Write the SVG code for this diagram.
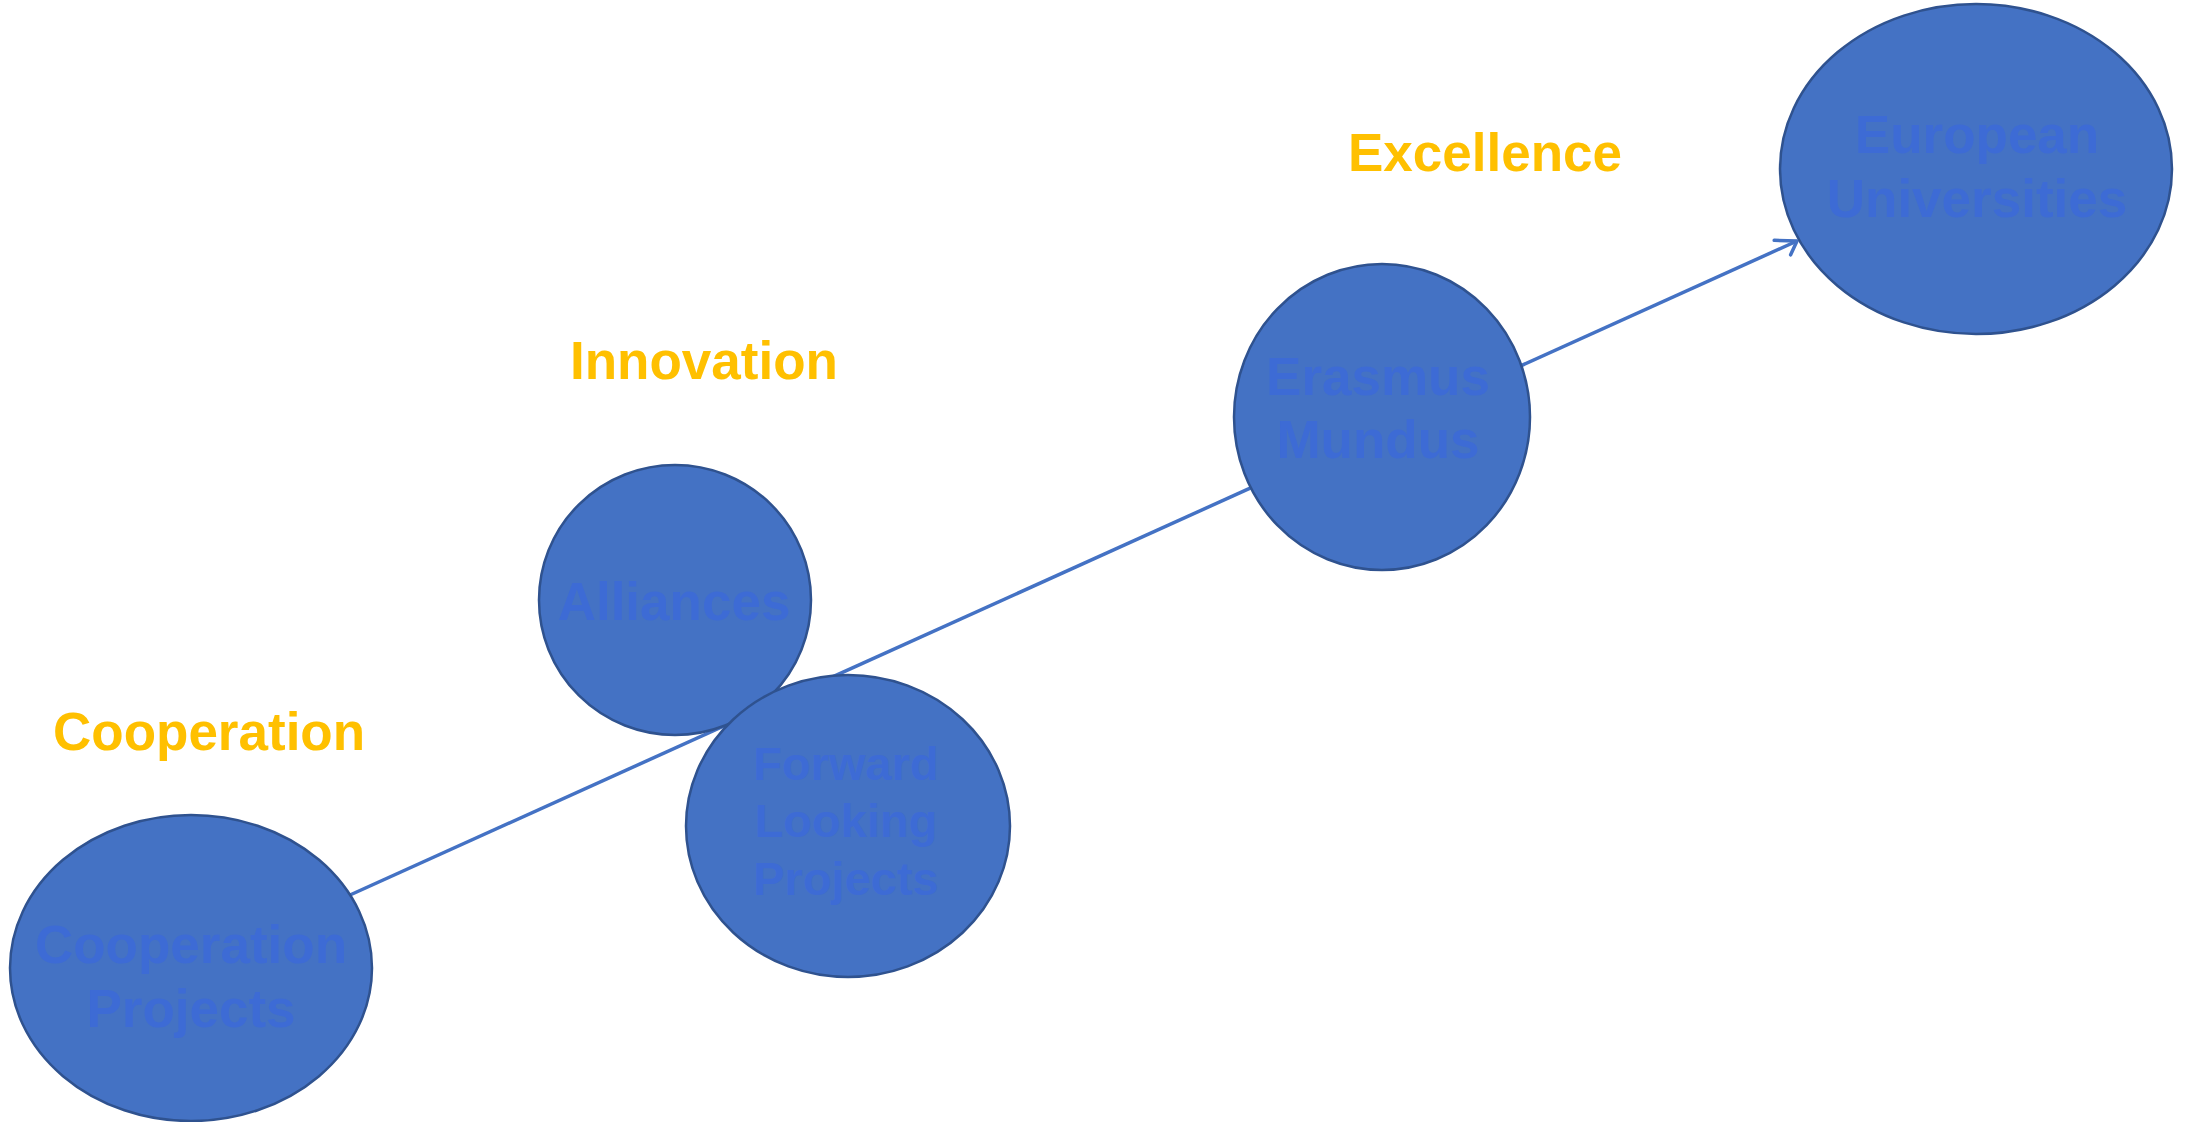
<svg xmlns="http://www.w3.org/2000/svg" width="2187" height="1122" viewBox="0 0 2187 1122">
<style>
.node{fill:#4472C4;stroke:#2F528F;stroke-width:2.5}
.lbl{font-family:"Liberation Sans",Arial,sans-serif;font-weight:bold;font-size:53px;fill:#3D6BD5;text-anchor:middle}
.sm{font-size:47px}
.cap{font-family:"Liberation Sans",Arial,sans-serif;font-weight:bold;font-size:53px;fill:#FFC000}
.conn{stroke:#4472C4;stroke-width:3.5;fill:none}
</style>
<defs>
<marker id="arr" markerWidth="10" markerHeight="10" refX="8.5" refY="5" orient="auto" markerUnits="userSpaceOnUse" viewBox="0 0 10 10" overflow="visible">
<path d="M-12,-5 L8.5,5 L-3,15" fill="none" stroke="#4472C4" stroke-width="3.5" stroke-linecap="round" stroke-linejoin="round"/>
</marker>
</defs>
<rect width="2187" height="1122" fill="#FFFFFF"/>
<g id="connectors">
<line class="conn" x1="350" y1="895" x2="1797" y2="241" marker-end="url(#arr)"/>
</g>
<g id="cap-cooperation"><text class="cap" x="53" y="750">Cooperation</text></g>
<g id="cap-innovation"><text class="cap" x="570" y="379">Innovation</text></g>
<g id="cap-excellence"><text class="cap" x="1348" y="171">Excellence</text></g>
<g id="node-cooperation">
<ellipse class="node" cx="191" cy="968" rx="181" ry="153"/>
<text class="lbl" x="191" y="963">Cooperation</text>
<text class="lbl" x="191" y="1027">Projects</text>
</g>
<g id="node-alliances">
<ellipse class="node" cx="675" cy="600" rx="136" ry="135"/>
<text class="lbl" x="674" y="620">Alliances</text>
</g>
<g id="node-forward">
<ellipse class="node" cx="848" cy="826" rx="162" ry="151"/>
<text class="lbl sm" x="846" y="780">Forward</text>
<text class="lbl sm" x="846" y="837">Looking</text>
<text class="lbl sm" x="846" y="895">Projects</text>
</g>
<g id="node-erasmus">
<ellipse class="node" cx="1382" cy="417" rx="148" ry="153"/>
<text class="lbl" x="1378" y="395">Erasmus</text>
<text class="lbl" x="1378" y="458">Mundus</text>
</g>
<g id="node-european">
<ellipse class="node" cx="1976" cy="169" rx="196" ry="165"/>
<text class="lbl" x="1977" y="153">European</text>
<text class="lbl" x="1977" y="217">Universities</text>
</g>
</svg>
